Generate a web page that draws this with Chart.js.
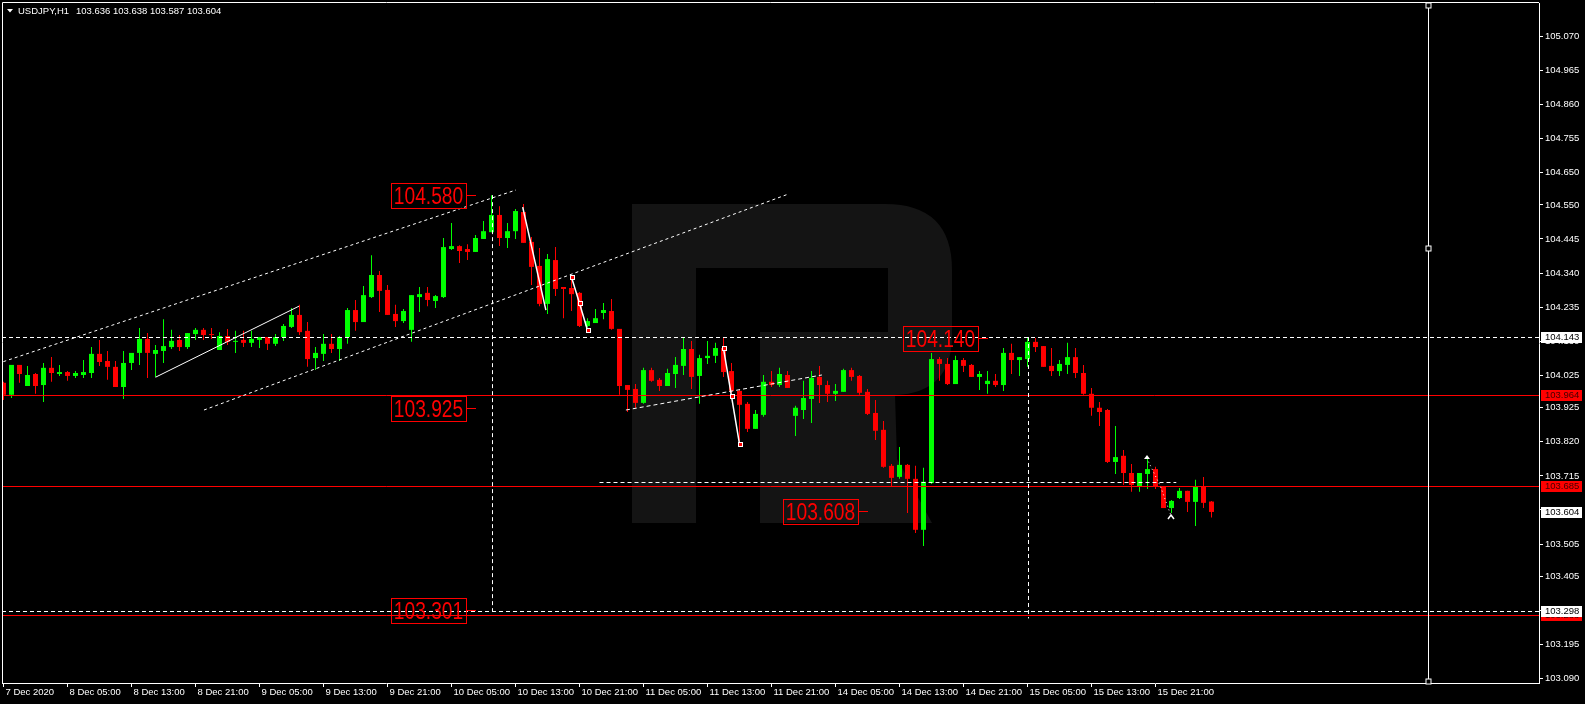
<!DOCTYPE html>
<html>
<head>
<meta charset="utf-8">
<title>USDJPY,H1</title>
<script src="https://cdn.jsdelivr.net/npm/chart.js@4.4.1/dist/chart.umd.min.js"></script>
<style>
  html, body { margin: 0; padding: 0; background: #000; }
  #wrap { width: 1585px; height: 704px; }
</style>
</head>
<body>
<div id="wrap"><canvas id="chart" width="1585" height="704"></canvas></div>
<script>
// H1 candles, first bar = 7 Dec 21:00
const symbolTitle = 'USDJPY,H1';
const lastQuote = '103.636 103.638 103.587 103.604';

const opens = [
  104.002,103.965,104.057,103.992,104.029,103.995,104.048,104.029,104.035,104.023,
  104.026,104.032,104.091,104.069,104.051,103.989,104.063,104.094,104.137,104.091,
  104.100,104.112,104.134,104.112,104.152,104.165,104.152,104.103,104.146,104.128,
  104.134,104.125,104.134,104.143,104.122,104.143,104.174,104.211,104.162,104.078,
  104.091,104.122,104.106,104.143,104.226,104.189,104.266,104.334,104.288,104.214,
  104.192,104.165,104.266,104.279,104.254,104.266,104.414,104.423,104.414,104.405,
  104.445,104.466,104.519,104.448,104.469,104.528,104.436,104.362,104.245,104.380,
  104.297,104.294,104.279,104.177,104.186,104.217,104.223,104.168,103.995,103.983,
  103.940,104.041,104.011,103.992,104.029,104.054,104.106,104.023,104.078,104.085,
  104.109,104.038,103.977,103.937,103.860,103.903,104.005,103.995,104.026,103.900,
  103.918,103.952,104.020,103.995,103.968,103.974,104.041,104.023,103.974,103.909,
  103.857,103.746,103.712,103.749,103.706,103.549,103.693,104.075,104.060,103.998,
  104.072,104.057,104.020,103.998,104.008,103.995,104.094,104.072,104.075,104.128,
  104.115,104.054,104.038,104.057,104.081,104.032,103.968,103.925,103.918,103.758,
  103.777,103.724,103.684,103.721,103.736,103.681,103.616,103.647,103.669,103.635,
  103.681,103.636
];
const highs = [
  104.005,104.057,104.057,104.054,104.032,104.063,104.081,104.057,104.038,104.038,
  104.072,104.112,104.134,104.100,104.069,104.100,104.094,104.171,104.155,104.118,
  104.198,104.165,104.149,104.155,104.171,104.171,104.171,104.158,104.168,104.162,
  104.162,104.162,104.143,104.143,104.152,104.183,104.232,104.242,104.189,104.112,
  104.152,104.152,104.146,104.232,104.257,104.300,104.395,104.346,104.303,104.242,
  104.229,104.272,104.297,104.297,104.272,104.448,104.494,104.426,104.429,104.457,
  104.500,104.580,104.546,104.494,104.537,104.553,104.451,104.417,104.399,104.420,
  104.297,104.334,104.282,104.201,104.229,104.248,104.260,104.168,103.995,103.998,
  104.048,104.048,104.017,104.045,104.081,104.143,104.131,104.088,104.131,104.125,
  104.143,104.063,103.983,103.943,103.918,104.026,104.038,104.048,104.038,103.931,
  104.008,104.038,104.054,104.008,103.998,104.045,104.048,104.026,103.983,103.949,
  103.884,103.752,103.804,103.752,103.746,103.740,104.094,104.081,104.078,104.085,
  104.078,104.060,104.038,104.038,104.029,104.109,104.122,104.081,104.143,104.140,
  104.115,104.109,104.072,104.125,104.109,104.057,103.986,103.943,103.921,103.869,
  103.795,103.752,103.724,103.773,103.743,103.681,103.641,103.678,103.669,103.703,
  103.712,103.638
];
const lows = [
  103.949,103.955,104.002,103.992,103.968,103.943,104.005,104.023,104.008,104.017,
  104.017,104.017,104.054,104.011,103.989,103.952,104.041,104.057,104.017,104.020,
  104.063,104.106,104.100,104.106,104.134,104.134,104.137,104.103,104.118,104.094,
  104.112,104.112,104.109,104.103,104.115,104.131,104.171,104.149,104.051,104.041,
  104.069,104.094,104.069,104.122,104.162,104.189,104.263,104.220,104.211,104.174,
  104.186,104.128,104.220,104.238,104.232,104.263,104.411,104.371,104.380,104.405,
  104.445,104.466,104.423,104.417,104.445,104.433,104.303,104.238,104.214,104.269,
  104.201,104.223,104.174,104.174,104.186,104.198,104.165,103.965,103.912,103.925,
  103.937,104.005,103.977,103.992,103.986,104.026,103.983,103.937,104.060,104.063,
  104.020,103.971,103.813,103.850,103.860,103.897,103.989,103.989,103.986,103.838,
  103.890,103.878,103.940,103.943,103.946,103.974,104.008,103.965,103.903,103.826,
  103.740,103.684,103.706,103.601,103.539,103.499,103.690,104.008,103.995,103.998,
  104.035,104.020,103.980,103.968,103.989,103.977,104.029,104.023,104.051,104.097,
  104.051,104.023,104.023,104.029,104.017,103.965,103.900,103.869,103.755,103.721,
  103.687,103.666,103.666,103.675,103.675,103.616,103.601,103.644,103.604,103.561,
  103.616,103.587
];
const closes = [
  103.965,104.057,104.029,104.026,103.992,104.048,104.032,104.035,104.023,104.032,
  104.035,104.091,104.066,104.051,103.989,104.063,104.094,104.137,104.094,104.103,
  104.115,104.131,104.112,104.155,104.165,104.149,104.149,104.146,104.128,104.131,
  104.125,104.137,104.143,104.122,104.143,104.177,104.211,104.158,104.075,104.094,
  104.122,104.106,104.143,104.226,104.189,104.272,104.334,104.285,104.211,104.192,
  104.223,104.272,104.275,104.257,104.269,104.420,104.423,104.408,104.405,104.448,
  104.469,104.519,104.448,104.469,104.531,104.433,104.359,104.245,104.383,104.291,
  104.291,104.275,104.177,104.192,104.201,104.226,104.168,103.992,103.980,103.940,
  104.041,104.008,103.992,104.032,104.057,104.106,104.020,104.078,104.085,104.109,
  104.035,103.977,103.934,103.860,103.906,104.005,103.995,104.029,103.986,103.925,
  103.955,104.017,103.995,103.968,103.977,104.041,104.020,103.971,103.906,103.854,
  103.743,103.709,103.749,103.706,103.549,103.697,104.075,104.060,103.998,104.072,
  104.054,104.020,104.029,104.008,103.995,104.094,104.072,104.081,104.128,104.112,
  104.051,104.038,104.060,104.081,104.032,103.968,103.925,103.912,103.758,103.773,
  103.724,103.687,103.724,103.736,103.681,103.616,103.638,103.669,103.635,103.681,
  103.632,103.604
];

// time axis: bar index -> label
const tickBars = [0, 8, 16, 24, 32, 40, 48, 56, 64, 72, 80, 88, 96, 104, 112, 120, 128, 136, 144];
const tickLabels = [
  '7 Dec 2020', '8 Dec 05:00', '8 Dec 13:00', '8 Dec 21:00', '9 Dec 05:00', '9 Dec 13:00',
  '9 Dec 21:00', '10 Dec 05:00', '10 Dec 13:00', '10 Dec 21:00', '11 Dec 05:00', '11 Dec 13:00',
  '11 Dec 21:00', '14 Dec 05:00', '14 Dec 13:00', '14 Dec 21:00', '15 Dec 05:00', '15 Dec 13:00',
  '15 Dec 21:00'
];
const priceTicks = [
  105.070, 104.965, 104.860, 104.755, 104.650, 104.550, 104.445, 104.340, 104.235, 104.130,
  104.025, 103.925, 103.820, 103.715, 103.610, 103.505, 103.405, 103.300, 103.195, 103.090
];

// drawn levels
const levelTop = 104.143;
const levelRedA = 103.964;
const levelRedB = 103.685;
const levelBottom = 103.298;
const levelBottomRed = 103.288;
const levelShort = 103.697;
const bidPrice = 103.604;

// trend lines [bar, price]
const channelUpper = [[-0.02, 104.067], [64.06, 104.596]];
const channelLower = [[25.06, 103.918], [98.06, 104.583]];
const innerLine = [[19.0, 104.019], [36.94, 104.238]];
const midLine = [[77.8, 103.918], [102.3, 104.026]];
const zigA = [[64.9, 104.543], [67.8, 104.226]];
const zigB = [[71, 104.327], [72, 104.247], [73, 104.164]];
const zigC = [[90, 104.108], [91, 103.960], [92, 103.813]];
const zigD = [[142.9, 103.770], [144.6, 103.684], [145.9, 103.595]];
const vLineA = [61, 104.580, 103.298];
const vLineB = [128, 104.143, 103.276];
const vLineObj = [178, 104.417];

const priceTags = [
  { text: '104.580', bar: 57.8, price: 104.580 },
  { text: '103.925', bar: 57.8, price: 103.925 },
  { text: '103.301', bar: 57.8, price: 103.301 },
  { text: '104.140', bar: 121.8, price: 104.140 },
  { text: '103.608', bar: 106.8, price: 103.608 }
];

const GREEN = '#00ff00';
const RED = '#ff0000';
const FONT = '"Liberation Sans", Arial, sans-serif';

const bodyData = opens.map((o, i) => ({ x: i, y: [o, closes[i]] }));
const wickData = opens.map((o, i) => ({ x: i, y: [lows[i], highs[i]] }));
const candleColors = opens.map((o, i) => closes[i] >= o ? GREEN : RED);

function drawWatermark(ctx) {
  ctx.save();
  ctx.fillStyle = '#141414';
  ctx.beginPath();
  ctx.moveTo(632, 204);
  ctx.lineTo(885, 204);
  ctx.quadraticCurveTo(952, 204, 952, 270);
  ctx.lineTo(952, 335);
  ctx.quadraticCurveTo(952, 393, 895, 395);
  ctx.lineTo(897, 459);
  ctx.lineTo(932, 523);
  ctx.lineTo(760, 523);
  ctx.lineTo(760, 332);
  ctx.lineTo(888, 332);
  ctx.lineTo(888, 268);
  ctx.lineTo(696, 268);
  ctx.lineTo(696, 523);
  ctx.lineTo(632, 523);
  ctx.closePath();
  ctx.fill();
  ctx.restore();
}

const overlayPlugin = {
  id: 'mtOverlay',
  beforeDraw(chart) {
    const ctx = chart.ctx;
    ctx.save();
    ctx.fillStyle = '#000';
    ctx.fillRect(0, 0, chart.width, chart.height);
    ctx.restore();
    drawWatermark(ctx);
  },
  afterDatasetsDraw(chart) {
    const ctx = chart.ctx;
    const xs = chart.scales.x, ys = chart.scales.y;
    const X = v => xs.getPixelForValue(v);
    const Y = v => ys.getPixelForValue(v);
    const area = chart.chartArea;

    ctx.save();
    ctx.beginPath();
    ctx.rect(area.left, area.top, area.right - area.left, area.bottom - area.top);
    ctx.clip();
    ctx.lineWidth = 1;

    function hline(price, color, dash, from, to) {
      const y = Math.round(Y(price)) + 0.5;
      ctx.beginPath();
      ctx.setLineDash(dash);
      ctx.strokeStyle = color;
      ctx.moveTo(from === undefined ? area.left : X(from), y);
      ctx.lineTo(to === undefined ? area.right : X(to), y);
      ctx.stroke();
    }
    function poly(pts, color, dash) {
      ctx.beginPath();
      ctx.setLineDash(dash);
      ctx.strokeStyle = color;
      pts.forEach((p, i) => {
        const px = X(p[0]), py = Y(p[1]);
        if (i === 0) ctx.moveTo(px, py); else ctx.lineTo(px, py);
      });
      ctx.stroke();
    }
    function vdash(v) {
      const x = Math.round(X(v[0])) + 0.5;
      ctx.beginPath();
      ctx.setLineDash([4, 3]);
      ctx.strokeStyle = '#fff';
      ctx.moveTo(x, Y(v[1]));
      ctx.lineTo(x, Y(v[2]));
      ctx.stroke();
    }
    function anchor(p) {
      const px = Math.round(X(p[0])), py = Math.round(Y(p[1]));
      ctx.setLineDash([]);
      ctx.fillStyle = '#fff';
      ctx.fillRect(px - 2, py - 2, 5, 5);
      ctx.fillStyle = RED;
      ctx.fillRect(px - 1, py - 1, 3, 3);
    }

    // horizontal levels
    hline(levelTop, '#fff', [4, 3]);
    hline(levelRedA, RED, []);
    hline(levelRedB, RED, []);
    hline(levelBottom, '#fff', [4, 3]);
    hline(levelBottomRed, RED, []);
    hline(levelShort, '#fff', [4, 3], 74.5, 146.6);

    // channels and trend lines
    poly(channelUpper, '#fff', [3, 3]);
    poly(channelLower, '#fff', [3, 3]);
    poly(midLine, '#fff', [4, 3]);
    poly(innerLine, '#fff', []);
    vdash(vLineA);
    vdash(vLineB);

    // zigzags
    ctx.lineWidth = 1.5;
    poly(zigA, '#fff', []);
    poly(zigB, '#fff', []);
    poly(zigC, '#fff', []);
    ctx.lineWidth = 1;
    zigB.forEach(anchor);
    zigC.forEach(anchor);
    poly(zigD, '#fff', [1, 3]);
    // small arrow marks
    ctx.setLineDash([]);
    ctx.fillStyle = '#fff';
    const a1x = Math.round(X(zigD[0][0])), a1y = Math.round(Y(zigD[0][1]));
    ctx.beginPath();
    ctx.moveTo(a1x - 3, a1y + 1); ctx.lineTo(a1x, a1y - 3); ctx.lineTo(a1x + 3, a1y + 1);
    ctx.closePath(); ctx.fill();
    const a2x = Math.round(X(zigD[2][0])), a2y = Math.round(Y(zigD[2][1]));
    ctx.beginPath();
    ctx.moveTo(a2x - 3, a2y + 4); ctx.lineTo(a2x, a2y); ctx.lineTo(a2x + 3, a2y + 4);
    ctx.strokeStyle = '#fff'; ctx.lineWidth = 1.5; ctx.stroke();
    ctx.lineWidth = 1;

    // red price tags
    priceTags.forEach(t => {
      const xr = Math.round(X(t.bar)), yc = Math.round(Y(t.price));
      const w = 75, h = 25;
      ctx.setLineDash([]);
      ctx.strokeStyle = RED;
      ctx.strokeRect(xr - w + 0.5, yc - 12 + 0.5, w, h);
      ctx.beginPath();
      ctx.moveTo(xr, yc + 0.5);
      ctx.lineTo(xr + 10, yc + 0.5);
      ctx.stroke();
      ctx.save();
      ctx.translate(xr - w / 2, yc + 9);
      ctx.scale(0.8, 1);
      ctx.font = '24px ' + FONT;
      ctx.fillStyle = RED;
      ctx.textAlign = 'center';
      ctx.textBaseline = 'alphabetic';
      ctx.fillText(t.text, 0, 0);
      ctx.restore();
    });
    ctx.restore();

    // vertical line object (runs into the axis)
    const vx = Math.round(X(vLineObj[0])) + 0.5;
    ctx.save();
    ctx.strokeStyle = '#fff';
    ctx.lineWidth = 1;
    ctx.beginPath();
    ctx.moveTo(vx, area.top);
    ctx.lineTo(vx, area.bottom);
    ctx.stroke();
    [area.top + 2, Math.round(Y(vLineObj[1])), area.bottom - 2].forEach(y => {
      ctx.fillStyle = '#000';
      ctx.fillRect(vx - 2.5, y - 2, 5, 5);
      ctx.strokeRect(vx - 2.5, y - 2, 5, 5);
    });
    ctx.restore();
  },
  afterDraw(chart) {
    const ctx = chart.ctx;
    const ys = chart.scales.y;
    const area = chart.chartArea;
    ctx.save();
    // frame
    ctx.strokeStyle = '#fff';
    ctx.lineWidth = 1;
    ctx.setLineDash([]);
    ctx.beginPath();
    ctx.moveTo(area.left + 0.5, area.bottom);
    ctx.lineTo(area.left + 0.5, area.top - 0.5);
    ctx.lineTo(area.right, area.top - 0.5);
    ctx.stroke();

    // price labels on the right axis
    function axisBox(price, bg, fg) {
      const y = Math.round(ys.getPixelForValue(price));
      ctx.fillStyle = bg;
      ctx.fillRect(area.right + 2, y - 5, 41, 11);
      ctx.fillStyle = fg;
      ctx.font = '9.5px ' + FONT;
      ctx.textAlign = 'left';
      ctx.textBaseline = 'middle';
      ctx.fillText(price.toFixed(3), area.right + 6, y + 0.5);
    }
    axisBox(levelTop, '#fff', '#000');
    axisBox(levelRedA, RED, '#400000');
    axisBox(levelRedB, RED, '#400000');
    axisBox(bidPrice, '#fff', '#000');
    axisBox(levelBottomRed, RED, '#400000');
    axisBox(levelBottom, '#fff', '#000');

    // symbol header
    ctx.fillStyle = '#fff';
    ctx.beginPath();
    ctx.moveTo(7, 9); ctx.lineTo(13, 9); ctx.lineTo(10, 12.5);
    ctx.closePath(); ctx.fill();
    ctx.font = '9.5px ' + FONT;
    ctx.textAlign = 'left';
    ctx.textBaseline = 'alphabetic';
    ctx.fillText(symbolTitle, 18, 14);
    ctx.fillText(lastQuote, 76, 14);
    ctx.restore();
  }
};

new Chart(document.getElementById('chart').getContext('2d'), {
  type: 'bar',
  data: {
    datasets: [
      {
        label: 'body',
        data: bodyData,
        backgroundColor: candleColors,
        borderWidth: 0,
        grouped: false,
        maxBarThickness: 5,
        minBarLength: 1,
        inflateAmount: 0
      },
      {
        label: 'wick',
        data: wickData,
        backgroundColor: candleColors,
        borderWidth: 0,
        grouped: false,
        maxBarThickness: 1,
        inflateAmount: 0
      }
    ]
  },
  options: {
    responsive: false,
    animation: false,
    devicePixelRatio: 1,
    events: [],
    layout: { padding: { left: 2, top: 3, right: 0, bottom: 0 } },
    plugins: { legend: { display: false }, tooltip: { enabled: false } },
    scales: {
      x: {
        type: 'linear',
        position: 'bottom',
        offset: false,
        min: -0.1875,
        max: 191.9375,
        bounds: 'data',
        grid: { offset: false, drawOnChartArea: false, drawTicks: true, tickLength: 4, color: '#fff' },
        border: { display: true, color: '#fff', width: 1 },
        ticks: {
          color: '#fff',
          font: { family: FONT, size: 9.5 },
          align: 'start',
          padding: 0,
          labelOffset: 2,
          autoSkip: false,
          maxRotation: 0,
          minRotation: 0,
          callback: (v, i) => tickLabels[i]
        },
        afterBuildTicks: s => { s.ticks = tickBars.map(v => ({ value: v })); },
        afterFit: s => { s.height = 21; s.paddingLeft = 0; s.paddingRight = 0; }
      },
      y: {
        type: 'linear',
        position: 'right',
        min: 103.077,
        max: 105.172,
        bounds: 'data',
        stacked: false,
        grid: { drawOnChartArea: false, drawTicks: true, tickLength: 4, color: '#fff' },
        border: { display: true, color: '#fff', width: 1 },
        ticks: {
          color: '#fff',
          font: { family: FONT, size: 9.5 },
          padding: 2,
          autoSkip: false,
          callback: v => Number(v).toFixed(3)
        },
        afterBuildTicks: s => { s.ticks = priceTicks.map(v => ({ value: v })); },
        afterFit: s => { s.width = 46; s.paddingTop = 0; s.paddingBottom = 0; }
      }
    }
  },
  plugins: [overlayPlugin]
});
</script>
</body>
</html>
